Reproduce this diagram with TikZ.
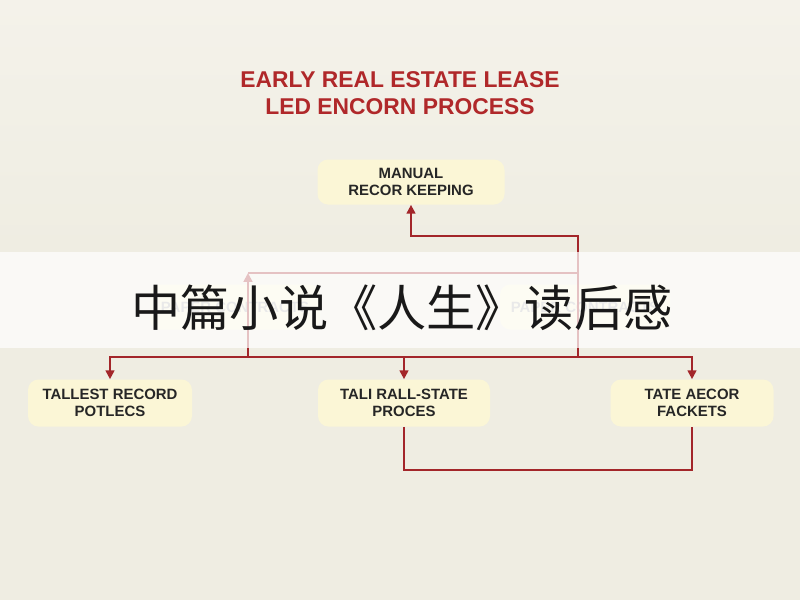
\documentclass[tikz,border=0pt]{standalone}
\usepackage{fontspec}
\setmainfont{Liberation Sans}
\newfontfamily\cjk{Noto Sans CJK SC}
\usetikzlibrary{arrows.meta}
\definecolor{bg}{HTML}{EFEDE2}
\definecolor{bgt}{HTML}{F4F2EA}
\definecolor{boxf}{HTML}{FBF6D6}
\definecolor{dred}{HTML}{A3262A}
\definecolor{tred}{HTML}{B0282A}
\begin{document}
\begin{tikzpicture}[x=0.02cm,y=-0.02cm,
  box/.style={fill=boxf,rounded corners=6pt,inner sep=0pt,font=\bfseries\fontsize{8.5}{10}\selectfont,text=black!85,align=center},
  conn/.style={draw=dred,line width=1.1pt},
  arr/.style={conn,-{Triangle[length=5pt,width=5pt]}}]
\useasboundingbox (0,0) rectangle (800,600);
\shade[top color=bgt,bottom color=bg] (0,0) rectangle (800,250);
\fill[bg] (0,250) rectangle (800,600);
\node[text=tred,font=\bfseries\fontsize{13}{15.4}\selectfont,align=center] (title) at (400,93) {EARLY REAL ESTATE LEASE\\LED ENCORN PROCESS};
\node[box,minimum width=187*0.02cm,minimum height=45*0.02cm] (man) at (411,182) {MANUAL\\RECOR KEEPING};
\node[box,minimum width=170*0.02cm,minimum height=45*0.02cm,text=black!30] (pl) at (235,307) {PAPER CONTRACTS};
\node[box,minimum width=170*0.02cm,minimum height=45*0.02cm,text=black!30] (pr) at (585,307) {PAPER CONTRACTS};
\node[box,minimum width=164*0.02cm,minimum height=47*0.02cm] (bl) at (110,403) {TALLEST RECORD\\POTLECS};
\node[box,minimum width=172*0.02cm,minimum height=47*0.02cm] (bm) at (404,403) {TALI RALL-STATE\\PROCES};
\node[box,minimum width=163*0.02cm,minimum height=47*0.02cm] (br) at (692,403) {TATE AECOR\\FACKETS};
\coordinate (j1) at (578,236);
\coordinate (j2) at (578,357);
\coordinate (j3) at (248,357);
\coordinate (j4) at (248,273);
\draw[arr] (j2) -- (j1) -| (man.south);
\draw[conn] (j4) -- (578,273);
\draw[arr] (j3) -- (j4);
\draw[arr] (j2) -| (bl.north);
\draw[arr] (j2) -| (br.north);
\draw[arr] (bm.north |- j2) -- (bm.north);
\draw[conn] (bm.south) -- (bm.south |- 0,470) -| (br.south);
\fill[white,opacity=0.72] (0,252) rectangle (800,348);
\node[font=\cjk\fontsize{28}{32}\selectfont,text=black!90] (ban) at (402,308) {中篇小说《人生》读后感};
\end{tikzpicture}
\end{document}
